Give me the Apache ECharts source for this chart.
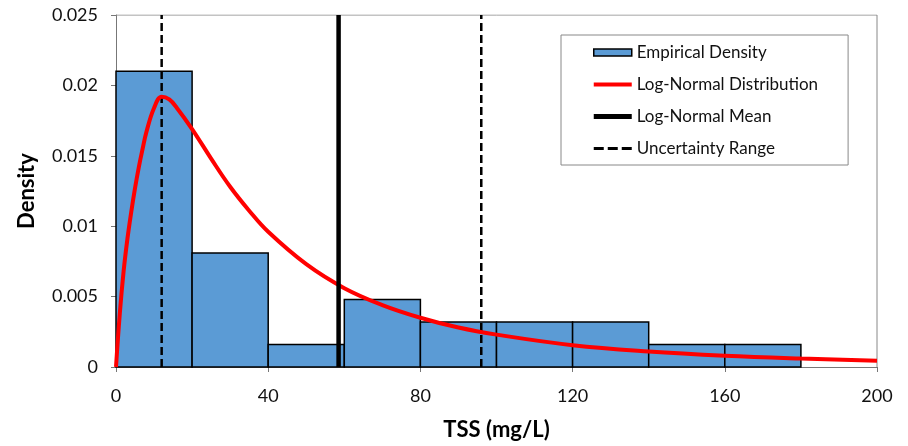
<!DOCTYPE html>
<html>
<head>
<meta charset="utf-8">
<script src="https://cdn.jsdelivr.net/npm/echarts@6/dist/echarts.min.js"></script>
<style>
  html, body { margin: 0; padding: 0; background: #fff; }
  #main { width: 908px; height: 446px; }
</style>
</head>
<body>
<div id="main"></div>
<script>
// histogram bins (mg/L) and empirical density
const binStart = [0, 20, 40, 60, 80, 100, 120, 140, 160];
const binEnd = [20, 40, 60, 80, 100, 120, 140, 160, 180];
const empDensity = [0.021, 0.0081, 0.0016, 0.0048, 0.0032, 0.0032, 0.0032, 0.0016, 0.0016];

// log-normal curve
const curveX = [0, 1, 2, 3, 4, 5, 6, 7, 8, 10, 12, 14, 16, 20, 25, 30, 35, 40, 50, 60, 70, 80, 90, 100, 120, 140, 160, 180, 200];
const curveY = [0, 0.0038, 0.0068, 0.0091, 0.011, 0.0127, 0.0142, 0.0155, 0.0167, 0.0184, 0.0192, 0.019, 0.0184, 0.0169, 0.0148, 0.0128, 0.0111, 0.0096, 0.0073, 0.0056, 0.0044, 0.0035, 0.0028, 0.0023, 0.00155, 0.0011, 0.0008, 0.0006, 0.00045];

const meanX = 58.5;
const rangeX = [12, 96];

const xTicks = { min: 0, max: 200, interval: 40 };
const yTicks = { min: 0, max: 0.025, interval: 0.005 };

const font = 'Lato, "Open Sans", sans-serif';

let histData = [];
for (let i = 0; i < binStart.length; i++) {
    histData.push([binStart[i], binEnd[i], empDensity[i]]);
}
let curveData = [];
for (let i = 0; i < curveX.length; i++) {
    curveData.push([curveX[i], curveY[i]]);
}

let optionObj = {
    animation: false,
    grid: { left: 116, right: 31, top: 15, bottom: 79 },
    legend: {
        orient: 'vertical',
        left: 561,
        top: 35,
        padding: [9, 30, 8, 32],
        itemGap: 15,
        itemWidth: 38,
        itemHeight: 14,
        symbolKeepAspect: true,
        borderColor: '#888',
        borderWidth: 1,
        textStyle: { fontFamily: font, fontSize: 17, color: '#111' },
        data: [
            { name: 'Empirical Density', icon: 'path://M0,0h38v7h-38z', itemStyle: { color: '#5B9BD5', borderColor: '#000', borderWidth: 1.5 } },
            { name: 'Log-Normal Distribution', icon: 'path://M0,0h38v4h-38z', itemStyle: { color: '#FF0000', borderWidth: 0 } },
            { name: 'Log-Normal Mean', icon: 'path://M0,0h38v5h-38z', itemStyle: { color: '#000', borderWidth: 0 } },
            { name: 'Uncertainty Range', icon: 'path://M0,0h10v3h-10z M14,0h10v3h-10z M28,0h10v3h-10z', itemStyle: { color: '#000', borderWidth: 0 } }
        ]
    },
    xAxis: {
        type: 'value',
        min: xTicks.min, max: xTicks.max, interval: xTicks.interval,
        name: 'TSS (mg/L)',
        nameLocation: 'middle',
        nameGap: 52,
        nameTextStyle: { fontFamily: font, fontSize: 22, fontWeight: 'bold', color: '#000' },
        axisLine: { lineStyle: { color: '#777', width: 1 } },
        axisTick: { show: true, length: 5, lineStyle: { color: '#777' } },
        axisLabel: { fontFamily: font, fontSize: 18, color: '#111', margin: 20 },
        splitLine: { show: false }
    },
    yAxis: {
        type: 'value',
        min: yTicks.min, max: yTicks.max, interval: yTicks.interval,
        name: 'Density',
        nameLocation: 'middle',
        nameGap: 78,
        nameTextStyle: { fontFamily: font, fontSize: 22, fontWeight: 'bold', color: '#000' },
        axisLine: { show: true, lineStyle: { color: '#777', width: 1 } },
        axisTick: { show: true, length: 5, lineStyle: { color: '#777' } },
        axisLabel: { fontFamily: font, fontSize: 18, color: '#111', margin: 18 },
        splitLine: { show: false }
    },
    series: [
        {
            name: 'Empirical Density',
            type: 'custom',
            data: histData,
            encode: { x: [0, 1], y: 2 },
            itemStyle: { color: '#5B9BD5' },
            renderItem: function (params, api) {
                let p0 = api.coord([api.value(0), api.value(2)]);
                let p1 = api.coord([api.value(1), 0]);
                return {
                    type: 'rect',
                    shape: { x: p0[0], y: p0[1], width: p1[0] - p0[0], height: p1[1] - p0[1] },
                    style: { fill: '#5B9BD5', stroke: '#000', lineWidth: 1.5 }
                };
            }
        },
        {
            name: 'Uncertainty Range',
            type: 'line',
            symbol: 'none',
            data: [[rangeX[0], yTicks.min], [rangeX[0], yTicks.max], null, [rangeX[1], yTicks.min], [rangeX[1], yTicks.max]],
            connectNulls: false,
            lineStyle: { color: '#000', width: 2.5, type: [8, 4] },
            itemStyle: { color: '#000' },
            z: 3
        },
        {
            name: 'Log-Normal Distribution',
            type: 'line',
            symbol: 'none',
            smooth: 0.4,
            data: curveData,
            lineStyle: { color: '#FF0000', width: 4 },
            itemStyle: { color: '#FF0000' },
            z: 4
        },
        {
            name: 'Log-Normal Mean',
            type: 'line',
            symbol: 'none',
            data: [[meanX, yTicks.min], [meanX, yTicks.max]],
            lineStyle: { color: '#000', width: 4.5 },
            itemStyle: { color: '#000' },
            z: 5
        },
        {
            // plot area border (top / right)
            type: 'line',
            symbol: 'none',
            silent: true,
            data: [[xTicks.min, yTicks.max], [xTicks.max, yTicks.max], [xTicks.max, yTicks.min]],
            lineStyle: { color: '#888', width: 1 },
            z: 1
        }
    ]
};

let myChart = echarts.init(document.getElementById('main'));
myChart.setOption(optionObj);
</script>
</body>
</html>
